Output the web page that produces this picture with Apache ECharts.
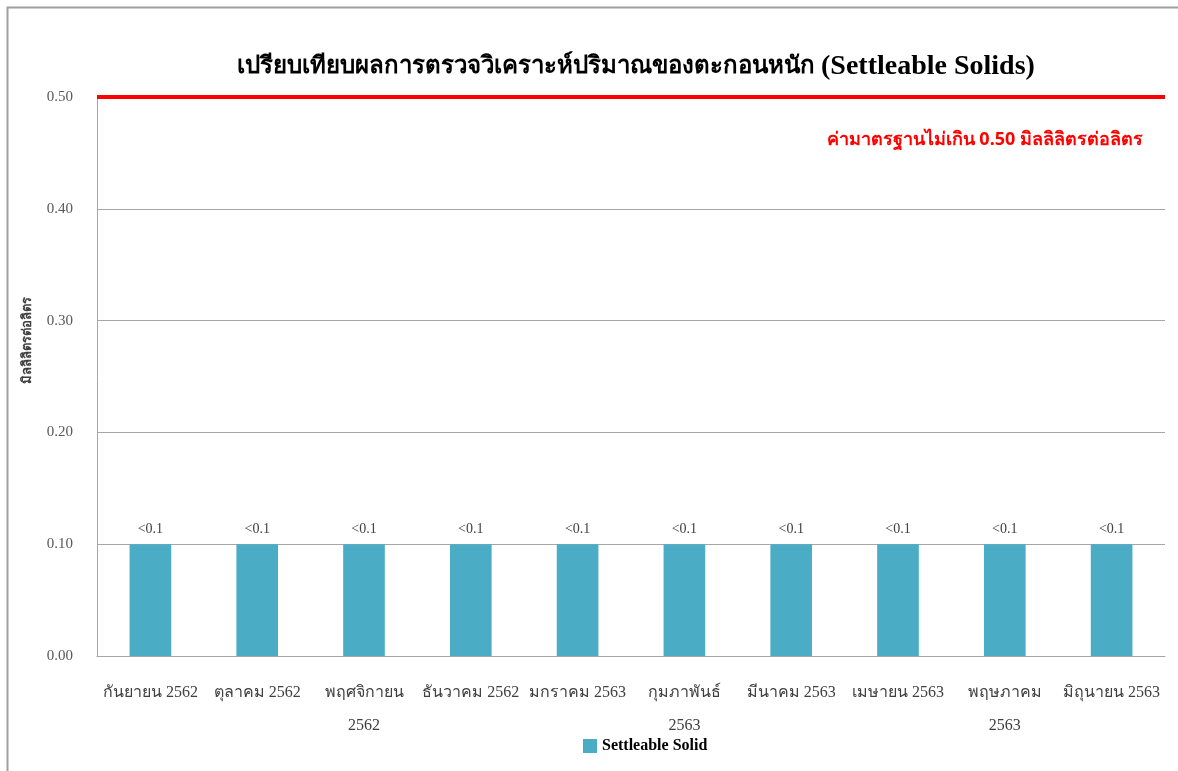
<!DOCTYPE html>
<html>
<head>
<meta charset="utf-8">
<script src="https://cdn.jsdelivr.net/npm/echarts@6/dist/echarts.min.js"></script>
<style>
  html, body { margin: 0; padding: 0; background: #fff; }
  #chart { width: 1178px; height: 771px; }
</style>
</head>
<body>
<div id="chart"></div>
<script>
// Monthly settleable solids results (mL/L), Thai fiscal months
const months = [
  'กันยายน 2562', 'ตุลาคม 2562', 'พฤศจิกายน\n2562', 'ธันวาคม 2562', 'มกราคม 2563',
  'กุมภาพันธ์\n2563', 'มีนาคม 2563', 'เมษายน 2563', 'พฤษภาคม\n2563', 'มิถุนายน 2563'
];
const settleable = [0.1, 0.1, 0.1, 0.1, 0.1, 0.1, 0.1, 0.1, 0.1, 0.1];
const valueLabels = ['<0.1', '<0.1', '<0.1', '<0.1', '<0.1', '<0.1', '<0.1', '<0.1', '<0.1', '<0.1'];
const standardLimit = 0.5;
const yTicks = [0, 0.1, 0.2, 0.3, 0.4, 0.5];

const serif = '"Liberation Serif", "DejaVu Serif", serif';

const chart = echarts.init(document.getElementById('chart'));
chart.setOption({
  animation: false,
  backgroundColor: '#ffffff',
  title: {
    text: '{th|เปรียบเทียบผลการตรวจวิเคราะห์ปริมาณของตะกอนหนัก }{en|(Settleable Solids)}',
    left: 232,
    top: 48,
    textStyle: {
      rich: {
        th: { fontFamily: serif, fontSize: 24, fontWeight: 'bold', color: '#000' },
        en: { fontFamily: serif, fontSize: 28, fontWeight: 'bold', color: '#000' }
      }
    }
  },
  legend: {
    bottom: 12,
    left: 578,
    itemWidth: 14,
    itemHeight: 14,
    itemGap: 6,
    icon: 'rect',
    textStyle: { fontFamily: serif, fontSize: 16, fontWeight: 'bold', color: '#000' },
    data: ['Settleable Solid']
  },
  grid: { left: 97, right: 13, top: 97, bottom: 115 },
  xAxis: {
    type: 'category',
    data: months,
    axisLine: { lineStyle: { color: '#a6a6a6', width: 1 } },
    axisTick: { show: false },
    axisLabel: {
      fontFamily: serif, fontSize: 16, color: '#404040',
      margin: 20, lineHeight: 33, interval: 0
    }
  },
  yAxis: {
    type: 'value',
    min: yTicks[0],
    max: yTicks[yTicks.length - 1],
    interval: 0.1,
    axisLine: { show: true, lineStyle: { color: '#a6a6a6', width: 1 } },
    axisTick: { show: false },
    splitLine: { lineStyle: { color: '#a6a6a6', width: 1 } },
    axisLabel: {
      fontFamily: serif, fontSize: 15, color: '#595959', margin: 24,
      formatter: v => v.toFixed(2)
    }
  },
  series: [{
    name: 'Settleable Solid',
    type: 'bar',
    data: settleable,
    barWidth: '39%',
    itemStyle: { color: '#4bacc6' },
    label: {
      show: true,
      position: 'top',
      distance: 8,
      fontFamily: serif,
      fontSize: 14,
      color: '#404040',
      formatter: p => valueLabels[p.dataIndex]
    },
    markLine: {
      silent: true,
      symbol: 'none',
      label: { show: false },
      lineStyle: { color: '#ff0000', width: 4, type: 'solid' },
      data: [{ yAxis: standardLimit }]
    }
  }],
  graphic: [
    {
      type: 'rect',
      shape: { x: 7.5, y: 7.5, width: 1200, height: 800 },
      style: { fill: 'none', stroke: '#a0a0a0', lineWidth: 2 },
      silent: true
    },
    {
      type: 'text',
      x: 28, y: 340,
      rotation: Math.PI / 2,
      style: {
        text: 'มิลลิลิตรต่อลิตร',
        fontFamily: serif, fontSize: 13, fontWeight: 'bold', fill: '#404040',
        align: 'center', verticalAlign: 'middle'
      }
    },
    {
      type: 'text',
      x: 1143, y: 140,
      style: {
        text: 'ค่ามาตรฐานไม่เกิน 0.50 มิลลิลิตรต่อลิตร',
        fontFamily: '"Noto Sans", sans-serif', fontSize: 18, fontWeight: 'bold', fill: '#ff0000',
        align: 'right', verticalAlign: 'middle'
      }
    }
  ]
});
</script>
</body>
</html>
